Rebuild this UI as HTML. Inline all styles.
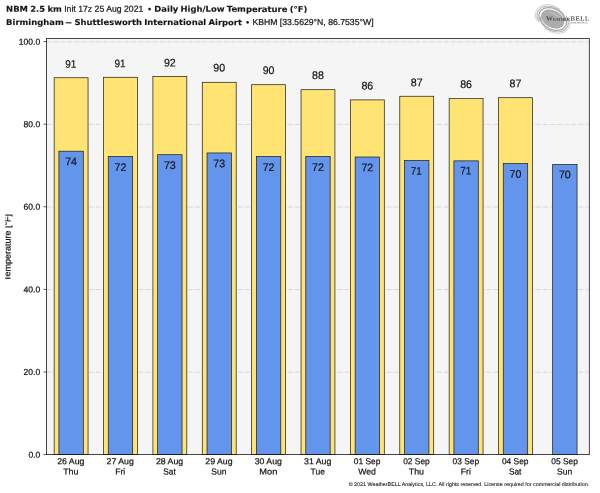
<!DOCTYPE html>
<html lang="en"><head><meta charset="utf-8"><title>NBM 2.5 km Daily High/Low Temperature</title>
<style>html,body{margin:0;padding:0;background:#fff;overflow:hidden}svg{display:block}text{font-family:"Liberation Sans", sans-serif;text-rendering:geometricPrecision;fill:#151515;stroke:#151515;stroke-width:0.22px}.b{font-family:"DejaVu Sans", "Liberation Sans", sans-serif;font-weight:bold;stroke-width:0.12px}.n{stroke-width:0.08px}.lg text{font-family:"Liberation Serif",serif;fill:#484848;stroke:none}</style></head><body>
<svg width="600" height="493" viewBox="0 0 600 493">
<rect width="600" height="493" fill="#fff"/>
<rect x="46.45" y="38.60" width="542.85" height="416.00" fill="#f5f5f5"/>
<line x1="46.45" x2="589.30" y1="372.20" y2="372.20" stroke="#bcbcbc" stroke-width="0.55" stroke-dasharray="4.3 1.1 0.6 1.1"/>
<line x1="46.45" x2="589.30" y1="289.60" y2="289.60" stroke="#bcbcbc" stroke-width="0.55" stroke-dasharray="4.3 1.1 0.6 1.1"/>
<line x1="46.45" x2="589.30" y1="207.00" y2="207.00" stroke="#bcbcbc" stroke-width="0.55" stroke-dasharray="4.3 1.1 0.6 1.1"/>
<line x1="46.45" x2="589.30" y1="124.40" y2="124.40" stroke="#bcbcbc" stroke-width="0.55" stroke-dasharray="4.3 1.1 0.6 1.1"/>
<line x1="46.45" x2="589.30" y1="41.80" y2="41.80" stroke="#bcbcbc" stroke-width="0.55" stroke-dasharray="4.3 1.1 0.6 1.1"/>
<rect x="54.15" y="77.75" width="33.90" height="376.85" fill="#ffe474" stroke="#1c1c1c" stroke-width="0.72"/>
<rect x="58.90" y="151.20" width="24.40" height="303.40" fill="#6495ed" stroke="#1c1c1c" stroke-width="0.72"/>
<rect x="103.52" y="77.30" width="33.90" height="377.30" fill="#ffe474" stroke="#1c1c1c" stroke-width="0.72"/>
<rect x="108.27" y="156.40" width="24.40" height="298.20" fill="#6495ed" stroke="#1c1c1c" stroke-width="0.72"/>
<rect x="152.90" y="76.50" width="33.90" height="378.10" fill="#ffe474" stroke="#1c1c1c" stroke-width="0.72"/>
<rect x="157.65" y="154.70" width="24.40" height="299.90" fill="#6495ed" stroke="#1c1c1c" stroke-width="0.72"/>
<rect x="202.28" y="82.30" width="33.90" height="372.30" fill="#ffe474" stroke="#1c1c1c" stroke-width="0.72"/>
<rect x="207.03" y="152.95" width="24.40" height="301.65" fill="#6495ed" stroke="#1c1c1c" stroke-width="0.72"/>
<rect x="251.65" y="84.70" width="33.90" height="369.90" fill="#ffe474" stroke="#1c1c1c" stroke-width="0.72"/>
<rect x="256.40" y="156.45" width="24.40" height="298.15" fill="#6495ed" stroke="#1c1c1c" stroke-width="0.72"/>
<rect x="301.03" y="89.70" width="33.90" height="364.90" fill="#ffe474" stroke="#1c1c1c" stroke-width="0.72"/>
<rect x="305.78" y="156.45" width="24.40" height="298.15" fill="#6495ed" stroke="#1c1c1c" stroke-width="0.72"/>
<rect x="350.40" y="99.90" width="33.90" height="354.70" fill="#ffe474" stroke="#1c1c1c" stroke-width="0.72"/>
<rect x="355.15" y="157.00" width="24.40" height="297.60" fill="#6495ed" stroke="#1c1c1c" stroke-width="0.72"/>
<rect x="399.78" y="96.25" width="33.90" height="358.35" fill="#ffe474" stroke="#1c1c1c" stroke-width="0.72"/>
<rect x="404.53" y="160.45" width="24.40" height="294.15" fill="#6495ed" stroke="#1c1c1c" stroke-width="0.72"/>
<rect x="449.15" y="98.55" width="33.90" height="356.05" fill="#ffe474" stroke="#1c1c1c" stroke-width="0.72"/>
<rect x="453.90" y="160.85" width="24.40" height="293.75" fill="#6495ed" stroke="#1c1c1c" stroke-width="0.72"/>
<rect x="498.53" y="97.70" width="33.90" height="356.90" fill="#ffe474" stroke="#1c1c1c" stroke-width="0.72"/>
<rect x="503.28" y="163.55" width="24.40" height="291.05" fill="#6495ed" stroke="#1c1c1c" stroke-width="0.72"/>
<rect x="552.65" y="164.45" width="24.40" height="290.15" fill="#6495ed" stroke="#1c1c1c" stroke-width="0.72"/>
<rect x="46.45" y="38.60" width="542.85" height="416.00" fill="none" stroke="#1a1a1a" stroke-width="0.8"/>
<line x1="43.45" x2="46.45" y1="454.60" y2="454.60" stroke="#1a1a1a" stroke-width="0.7"/>
<text transform="translate(40.25 457.65) rotate(0.05) scale(0.9787 1)" font-size="8.72" text-anchor="end">0.0</text>
<line x1="43.45" x2="46.45" y1="372.00" y2="372.00" stroke="#1a1a1a" stroke-width="0.7"/>
<text transform="translate(40.25 375.05) rotate(0.05) scale(0.9823 1)" font-size="8.72" text-anchor="end">20.0</text>
<line x1="43.45" x2="46.45" y1="289.40" y2="289.40" stroke="#1a1a1a" stroke-width="0.7"/>
<text transform="translate(40.25 292.45) rotate(0.05) scale(0.9823 1)" font-size="8.72" text-anchor="end">40.0</text>
<line x1="43.45" x2="46.45" y1="206.80" y2="206.80" stroke="#1a1a1a" stroke-width="0.7"/>
<text transform="translate(40.25 209.85) rotate(0.05) scale(0.9823 1)" font-size="8.72" text-anchor="end">60.0</text>
<line x1="43.45" x2="46.45" y1="124.20" y2="124.20" stroke="#1a1a1a" stroke-width="0.7"/>
<text transform="translate(40.25 127.25) rotate(0.05) scale(0.9823 1)" font-size="8.72" text-anchor="end">80.0</text>
<line x1="43.45" x2="46.45" y1="41.60" y2="41.60" stroke="#1a1a1a" stroke-width="0.7"/>
<text transform="translate(40.25 44.65) rotate(0.05) scale(0.9842 1)" font-size="8.72" text-anchor="end">100.0</text>
<text transform="translate(70.80 464.25) rotate(0.05) scale(1.0059 1)" font-size="8.72" text-anchor="middle">26 Aug</text>
<text transform="translate(70.80 474.50) rotate(0.05) scale(1.0121 1)" font-size="8.72" text-anchor="middle">Thu</text>
<text transform="translate(70.65 67.75) rotate(0.05) scale(0.9000 1)" font-size="11.00" text-anchor="middle">91</text>
<text transform="translate(71.10 165.30) rotate(0.05) scale(0.9650 1)" font-size="11.00" text-anchor="middle">74</text>
<text transform="translate(120.17 464.25) rotate(0.05) scale(1.0059 1)" font-size="8.72" text-anchor="middle">27 Aug</text>
<text transform="translate(120.17 474.50) rotate(0.05) scale(0.9932 1)" font-size="8.72" text-anchor="middle">Fri</text>
<text transform="translate(120.02 67.30) rotate(0.05) scale(0.9000 1)" font-size="11.00" text-anchor="middle">91</text>
<text transform="translate(120.47 171.10) rotate(0.05) scale(0.9650 1)" font-size="11.00" text-anchor="middle">72</text>
<text transform="translate(169.55 464.25) rotate(0.05) scale(1.0059 1)" font-size="8.72" text-anchor="middle">28 Aug</text>
<text transform="translate(169.55 474.50) rotate(0.05) scale(0.9538 1)" font-size="8.72" text-anchor="middle">Sat</text>
<text transform="translate(169.85 66.50) rotate(0.05) scale(0.9650 1)" font-size="11.00" text-anchor="middle">92</text>
<text transform="translate(169.85 169.10) rotate(0.05) scale(0.9650 1)" font-size="11.00" text-anchor="middle">73</text>
<text transform="translate(218.92 464.25) rotate(0.05) scale(1.0059 1)" font-size="8.72" text-anchor="middle">29 Aug</text>
<text transform="translate(218.92 474.50) rotate(0.05) scale(0.9763 1)" font-size="8.72" text-anchor="middle">Sun</text>
<text transform="translate(219.22 71.50) rotate(0.05) scale(0.9650 1)" font-size="11.00" text-anchor="middle">90</text>
<text transform="translate(219.22 167.35) rotate(0.05) scale(0.9650 1)" font-size="11.00" text-anchor="middle">73</text>
<text transform="translate(268.30 464.25) rotate(0.05) scale(1.0059 1)" font-size="8.72" text-anchor="middle">30 Aug</text>
<text transform="translate(268.30 474.50) rotate(0.05) scale(1.0656 1)" font-size="8.72" text-anchor="middle">Mon</text>
<text transform="translate(268.60 74.00) rotate(0.05) scale(0.9650 1)" font-size="11.00" text-anchor="middle">90</text>
<text transform="translate(268.60 170.95) rotate(0.05) scale(0.9650 1)" font-size="11.00" text-anchor="middle">72</text>
<text transform="translate(317.68 464.25) rotate(0.05) scale(1.0059 1)" font-size="8.72" text-anchor="middle">31 Aug</text>
<text transform="translate(317.68 474.50) rotate(0.05) scale(0.9816 1)" font-size="8.72" text-anchor="middle">Tue</text>
<text transform="translate(317.98 79.00) rotate(0.05) scale(0.9650 1)" font-size="11.00" text-anchor="middle">88</text>
<text transform="translate(317.98 170.95) rotate(0.05) scale(0.9650 1)" font-size="11.00" text-anchor="middle">72</text>
<text transform="translate(367.05 464.25) rotate(0.05) scale(0.9617 1)" font-size="8.72" text-anchor="middle">01 Sep</text>
<text transform="translate(367.05 474.50) rotate(0.05) scale(0.9982 1)" font-size="8.72" text-anchor="middle">Wed</text>
<text transform="translate(367.35 89.50) rotate(0.05) scale(0.9650 1)" font-size="11.00" text-anchor="middle">86</text>
<text transform="translate(367.35 171.30) rotate(0.05) scale(0.9650 1)" font-size="11.00" text-anchor="middle">72</text>
<text transform="translate(416.43 464.25) rotate(0.05) scale(0.9617 1)" font-size="8.72" text-anchor="middle">02 Sep</text>
<text transform="translate(416.43 474.50) rotate(0.05) scale(1.0121 1)" font-size="8.72" text-anchor="middle">Thu</text>
<text transform="translate(416.73 86.25) rotate(0.05) scale(0.9650 1)" font-size="11.00" text-anchor="middle">87</text>
<text transform="translate(416.28 174.75) rotate(0.05) scale(0.9000 1)" font-size="11.00" text-anchor="middle">71</text>
<text transform="translate(465.80 464.25) rotate(0.05) scale(0.9617 1)" font-size="8.72" text-anchor="middle">03 Sep</text>
<text transform="translate(465.80 474.50) rotate(0.05) scale(0.9932 1)" font-size="8.72" text-anchor="middle">Fri</text>
<text transform="translate(466.10 87.95) rotate(0.05) scale(0.9650 1)" font-size="11.00" text-anchor="middle">86</text>
<text transform="translate(465.65 174.55) rotate(0.05) scale(0.9000 1)" font-size="11.00" text-anchor="middle">71</text>
<text transform="translate(515.18 464.25) rotate(0.05) scale(0.9617 1)" font-size="8.72" text-anchor="middle">04 Sep</text>
<text transform="translate(515.18 474.50) rotate(0.05) scale(0.9538 1)" font-size="8.72" text-anchor="middle">Sat</text>
<text transform="translate(515.48 87.20) rotate(0.05) scale(0.9650 1)" font-size="11.00" text-anchor="middle">87</text>
<text transform="translate(515.48 177.85) rotate(0.05) scale(0.9650 1)" font-size="11.00" text-anchor="middle">70</text>
<text transform="translate(564.55 464.25) rotate(0.05) scale(0.9617 1)" font-size="8.72" text-anchor="middle">05 Sep</text>
<text transform="translate(564.55 474.50) rotate(0.05) scale(0.9763 1)" font-size="8.72" text-anchor="middle">Sun</text>
<text transform="translate(564.85 178.30) rotate(0.05) scale(0.9650 1)" font-size="11.00" text-anchor="middle">70</text>
<text transform="translate(10.40 247.50) rotate(-89.95) scale(1.0222 1)" font-size="8.82" text-anchor="middle">Temperature [°F]</text>
<rect x="0" y="205" width="5.3" height="85" fill="#fff"/>
<text transform="translate(6.10 11.80) rotate(0.05) scale(1.0540 1)" font-size="8.00" class="b" word-spacing="-0.66">NBM 2.5 km</text>
<text transform="translate(64.20 11.80) rotate(0.05) scale(0.9954 1)" font-size="8.72">Init 17z 25 Aug 2021</text>
<text transform="translate(149.50 12.00) rotate(0.05)" font-size="9.00" text-anchor="middle">•</text>
<text transform="translate(154.30 11.80) rotate(0.05) scale(1.0540 1)" font-size="8.00" class="b" word-spacing="-0.66">Daily High/Low Temperature (°F)</text>
<text transform="translate(6.10 25.00) rotate(0.05) scale(1.0540 1)" font-size="8.00" class="b">Birmingham</text>
<text transform="translate(68.40 25.00) rotate(0.05) scale(1.7500 1)" font-size="8.00" text-anchor="middle" class="b">–</text>
<text transform="translate(74.40 25.00) rotate(0.05) scale(1.0540 1)" font-size="8.00" class="b" word-spacing="-0.66">Shuttlesworth International Airport</text>
<text transform="translate(247.60 25.20) rotate(0.05)" font-size="9.00" text-anchor="middle">•</text>
<text transform="translate(252.40 25.00) rotate(0.05) scale(0.9946 1)" font-size="8.72">KBHM [33.5629°N, 86.7535°W]</text>
<g transform="translate(552.7 19.0) rotate(28)" stroke="none">
<ellipse rx="12.4" ry="8.6" fill="#acacac"/>
<path d="M-8.16 -2.37 A9.00 5.60 0 0 1 8.16 -2.37 A9.69 6.03 0 0 0 -8.16 -2.37 Z" fill="#dcdcdc"/>
<path d="M-10.58 7.14 A13.90 10.10 0 1 1 11.85 -4.27" fill="none" stroke="#a8a8a8" stroke-width="1.25" stroke-linecap="round"/>
<path d="M10.58 -7.14 A13.90 10.10 0 1 1 -11.85 4.27" fill="none" stroke="#a8a8a8" stroke-width="1.25" stroke-linecap="round"/>
<path d="M-10.77 8.87 A15.05 11.25 0 1 1 9.68 -7.53" fill="none" stroke="#adadad" stroke-width="0.95" stroke-linecap="round"/>
<path d="M10.77 -8.87 A15.05 11.25 0 1 1 -9.68 7.53" fill="none" stroke="#adadad" stroke-width="0.95" stroke-linecap="round"/>
<path d="M-13.71 8.77 A16.20 12.40 0 0 1 1.94 -11.98" fill="none" stroke="#b8b8b8" stroke-width="0.60" stroke-linecap="round"/>
<path d="M13.71 -8.77 A16.20 12.40 0 0 1 -1.94 11.98" fill="none" stroke="#b8b8b8" stroke-width="0.60" stroke-linecap="round"/>
</g>
<g class="lg">
<text transform="translate(545.9 20.8) rotate(0.05)" font-size="6.8"><tspan x="0" style="font-weight:bold">W</tspan><tspan x="7.0" font-size="4.3" textLength="17.0" lengthAdjust="spacing" style="font-weight:bold">EATHER</tspan><tspan x="24.6" textLength="18.6" lengthAdjust="spacing" style="stroke:#484848;stroke-width:0.12px">BELL</tspan></text>
<text transform="translate(570.6 23.4) rotate(0.05)" font-size="2.3" textLength="17.6" lengthAdjust="spacing" style="fill:#5a5a5a;font-weight:bold">ANALYTICS LLC</text>
</g>
<text transform="translate(589.20 486.10) rotate(0.05) scale(1.0095 1)" font-size="5.31" text-anchor="end" class="n">© 2021 WeatherBELL Analytics, LLC. All rights reserved. License required for commercial distribution.</text>
</svg></body></html>
